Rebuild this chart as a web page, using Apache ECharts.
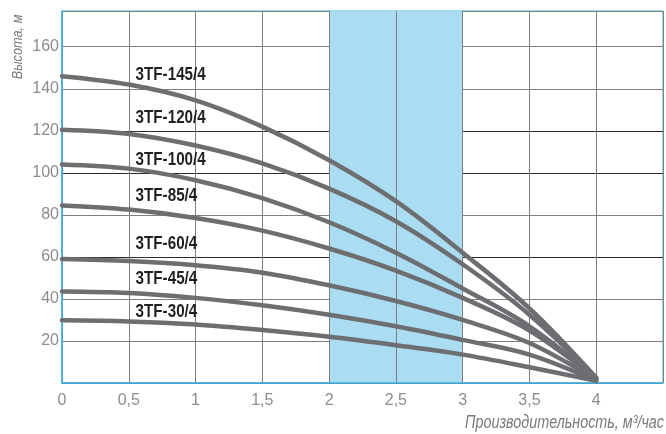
<!DOCTYPE html>
<html>
<head>
<meta charset="utf-8">
<script src="https://cdn.jsdelivr.net/npm/echarts@6/dist/echarts.min.js"></script>
<style>
html,body{margin:0;padding:0;background:#fff;}
#c{width:666px;height:434px;}
</style>
</head>
<body>
<div id="c"></div>
<script>
var flow = [0, 0.5, 1, 1.5, 2, 2.5, 3, 3.5, 4];
var h145 = [146, 142, 134.5, 122, 106, 86.5, 62, 35.5, 2.5];
var h120 = [120.5, 118.5, 113, 104.5, 92.5, 77, 56.5, 32.5, 2.5];
var h100 = [104, 102, 96.5, 88, 76.5, 62, 45, 27, 2];
var h85 = [84.5, 82.5, 78.5, 72.5, 64, 53.5, 40.5, 25, 2];
var h60 = [59, 58, 56, 52.5, 46.5, 39, 30, 19, 1.5];
var h45 = [43.5, 42.8, 40.5, 37, 32.5, 27, 20.5, 13.5, 1];
var h30 = [29.8, 29.3, 27.8, 25.2, 22, 18, 13.5, 7.5, 1];
var modelNames = ['3TF-145/4', '3TF-120/4', '3TF-100/4', '3TF-85/4', '3TF-60/4', '3TF-45/4', '3TF-30/4'];
var labelX = [0.551, 0.551, 0.551, 0.551, 0.551, 0.551, 0.551];
var labelY = [146.5, 126, 106, 89, 66.2, 49.5, 34];
var bandRange = [2, 3];
var xTitle = 'Производительность, м³/час';
var yTitle = 'Высота, м';

var curves = [h145, h120, h100, h85, h60, h45, h30];
var fam = "'Liberation Sans','Arial',sans-serif";

var series = curves.map(function (arr, i) {
  return {
    name: modelNames[i],
    type: 'line',
    data: flow.map(function (q, j) { return [q, arr[j]]; }),
    smooth: 0.35,
    symbol: 'none',
    lineStyle: { color: '#6d6e71', width: 4.5, cap: 'round' },
    z: 3
  };
});

var bandColor = '#aadcf2';
var areaColors = flow.map(function (q) {
  return (q >= bandRange[0] && q < bandRange[1]) ? bandColor : 'rgba(0,0,0,0)';
});

var chart = echarts.init(document.getElementById('c'));
chart.setOption({
  animation: false,
  grid: { left: 62, right: 0, top: 11, bottom: 51, show: true, borderColor: '#3aafe4', borderWidth: 1, backgroundColor: 'transparent' },
  xAxis: {
    type: 'value', min: 0, max: 4.5, interval: 0.5,
    axisLine: { show: true, lineStyle: { color: '#3aafe4', width: 1.5 } },
    axisTick: { show: false },
    axisLabel: {
      margin: 10, color: '#8c8c8c', fontSize: 16, fontFamily: fam,
      formatter: function (v) { return v > 4 ? '' : String(v).replace('.', ','); }
    },
    splitLine: { show: true, lineStyle: { color: '#7f7f7f', width: 1 } },
    splitArea: { show: true, areaStyle: { color: areaColors } }
  },
  yAxis: {
    type: 'value', min: 0, max: 177, interval: 20,
    axisLine: { show: true, lineStyle: { color: '#3aafe4', width: 1.5 } },
    axisTick: { show: false },
    axisLabel: {
      margin: 3, color: '#8c8c8c', fontSize: 16, fontFamily: fam,
      formatter: function (v) { return (v === 0 || v > 160) ? '' : String(v); }
    },
    splitLine: { show: true, lineStyle: { color: ['#7f7f7f', '#7f7f7f', '#7f7f7f', '#2a2a2a', '#7f7f7f', '#2a2a2a', '#2a2a2a', '#7f7f7f', '#7f7f7f'], width: 1 } }
  },
  series: series
});

var gfx = modelNames.map(function (n, i) {
  var p = chart.convertToPixel({ gridIndex: 0 }, [labelX[i], labelY[i]]);
  return {
    type: 'text', x: p[0], y: p[1], scaleX: 0.8, z: 10,
    style: { text: n, font: 'bold 19px ' + fam, fill: '#231f20', align: 'left', verticalAlign: 'middle' }
  };
});
gfx.push({ type: 'text', x: 664, y: 423, scaleX: 0.82, z: 10,
  style: { text: xTitle, font: 'italic 17.5px ' + fam, fill: '#7a7a7a', align: 'right', verticalAlign: 'middle' } });
gfx.push({ type: 'text', x: 18, y: 47, rotation: Math.PI / 2, scaleX: 0.85, z: 10,
  style: { text: yTitle, font: 'italic 15px ' + fam, fill: '#7a7a7a', align: 'center', verticalAlign: 'middle' } });
chart.setOption({ graphic: gfx });
</script>
</body>
</html>
